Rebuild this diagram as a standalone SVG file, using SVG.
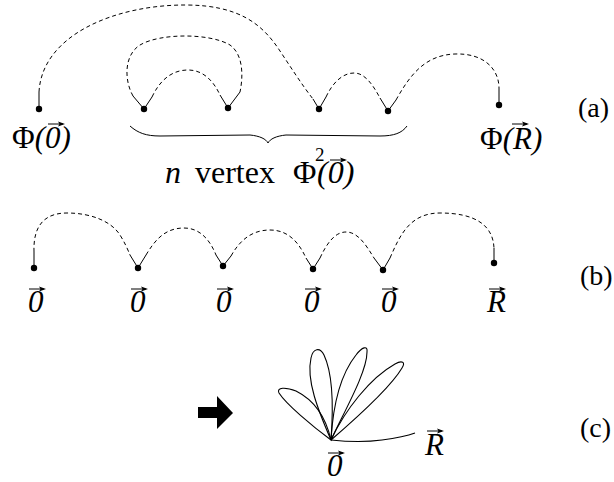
<svg xmlns="http://www.w3.org/2000/svg" xmlns:xlink="http://www.w3.org/1999/xlink" width="614" height="482" viewBox="0 0 614 482">
<style>
.t{font-family:"Liberation Serif","Times New Roman",serif;font-size:31px;fill:#000}
.big{font-size:32px}
.it{font-style:italic}
.lab{font-family:"Liberation Serif","Times New Roman",serif;font-size:28px;fill:#000}
.d{fill:none;stroke:#000;stroke-width:1;stroke-dasharray:4 3}
.s{fill:none;stroke:#000;stroke-width:1}
.dot{fill:#000}
.pet{fill:none;stroke:#000;stroke-width:1.1}
</style>
<defs>
<g id="vec"><line x1="0" y1="0" x2="15" y2="0" stroke="#000" stroke-width="1"/><path d="M17,0 L10,-2.5 L11.5,0 L10,2.5Z" fill="#000"/></g>
</defs>
<g id="connectors">
<!-- row a -->
<path class="s" d="M39,109 L39,92 M319,109 L313,99"/>
<path class="d" d="M39,92 C42,35 115,5 185,5 C240,5 262,25 278,48 C290,66 302,85 313,99"/>
<path class="s" d="M144,109 L133,96 M228,108 L240,92"/>
<path class="d" d="M133,96 C124,80 124,55 140,45 C160,33 210,33 230,45 C244,55 243,78 240,92"/>
<path class="s" d="M144,109 L152,97 M228,108 L220,95"/>
<path class="d" d="M152,97 C160,80 172,70 188,70 C204,70 214,82 220,95"/>
<path class="s" d="M319,109 L326,97 M388,111 L380,98"/>
<path class="d" d="M326,97 C333,82 343,73 354,73 C365,73 373,85 380,98"/>
<path class="s" d="M388,111 L396,100 M499,105 L499,88"/>
<path class="d" d="M396,100 C410,75 425,55 455,54 C485,53 499,70 499,88"/>
<path class="s" d="M130,126 C138,133 146,136 160,136 L250,135 C260,136 266,139 268,143 C270,139 276,136 286,135 L380,136 C394,136 402,133 407,126"/>
<!-- row b -->
<path class="s" d="M34,268 L34,252 M138,268 L130,255"/>
<path class="d" d="M34,252 C33,225 45,213 67,213 C92,213 112,222 120,235 C125,243 128,250 130,255"/>
<path class="s" d="M138,268 L146,255 M223,266 L216,255"/>
<path class="d" d="M146,255 C155,240 165,228 184,228 C200,228 210,240 216,255"/>
<path class="s" d="M223,266 L231,256 M313,269 L306,258"/>
<path class="d" d="M231,256 C240,240 252,230 270,230 C290,230 300,245 306,258"/>
<path class="s" d="M313,269 L320,258 M383,270 L374,258"/>
<path class="d" d="M320,258 C327,243 335,232 346,232 C358,232 366,245 374,258"/>
<path class="s" d="M383,270 L390,258 M494,263 L494,248"/>
<path class="d" d="M390,258 C400,235 410,213 440,213 C475,213 493,225 494,248"/>
<!-- row c -->
<path class="pet" d="M331,440 C326,418 314,400 296,391 C286,387 276,387 279,393 C286,404 312,426 331,440 Z"/>
<path class="pet" d="M331,440 C318,410 306,380 311,358 C313,348 320,347 324,355 C332,372 334,400 331,440 Z"/>
<path class="pet" d="M331,440 C333,405 340,375 356,355 C362,347 368,345 367,352 C367,372 345,410 331,440 Z"/>
<path class="pet" d="M331,440 C345,410 370,378 395,364 C402,360 406,362 402,368 C392,385 360,415 331,440 Z"/>
<path class="pet" d="M331,440 Q360,443 382,440 T415,433"/>
<polygon fill="#000" points="198,407 217,407 217,396 233,413 217,429 217,418 198,418"/>
</g>
<g id="dots">
<circle class="dot" cx="39" cy="109" r="3.2"/>
<circle class="dot" cx="144" cy="109" r="3.2"/>
<circle class="dot" cx="228" cy="108" r="3.2"/>
<circle class="dot" cx="319" cy="109" r="3.2"/>
<circle class="dot" cx="388" cy="111" r="3.2"/>
<circle class="dot" cx="499" cy="105" r="3.2"/>
<circle class="dot" cx="34" cy="268" r="3.2"/>
<circle class="dot" cx="138" cy="268" r="3.2"/>
<circle class="dot" cx="223" cy="266" r="3.2"/>
<circle class="dot" cx="313" cy="269" r="3.2"/>
<circle class="dot" cx="383" cy="270" r="3.2"/>
<circle class="dot" cx="494" cy="263" r="3.2"/>
</g>
<g id="labels-a">
<text class="t" x="12" y="148">Φ<tspan class="it">(0)</tspan></text>
<use xlink:href="#vec" x="48" y="124"/>
<text class="t" x="480" y="149">Φ<tspan class="it">(R)</tspan></text>
<use xlink:href="#vec" x="512" y="124"/>
<text class="lab" x="578" y="117">(a)</text>
<text class="t big it" x="165" y="183">n</text>
<text class="t big" x="195" y="183">vertex</text>
<text class="t big" x="293" y="183">Φ</text>
<text class="t big it" x="317" y="183">(0)</text>
<text class="t" x="315" y="161" style="font-size:19px">2</text>
<use xlink:href="#vec" x="330" y="160"/>
</g>
<g id="labels-b">
<text class="t it" x="28" y="312">0</text><use xlink:href="#vec" x="29" y="289"/>
<text class="t it" x="130" y="312">0</text><use xlink:href="#vec" x="131" y="289"/>
<text class="t it" x="216" y="312">0</text><use xlink:href="#vec" x="217" y="289"/>
<text class="t it" x="304" y="312">0</text><use xlink:href="#vec" x="305" y="289"/>
<text class="t it" x="381" y="312">0</text><use xlink:href="#vec" x="382" y="289"/>
<text class="t it" x="487" y="312">R</text><use xlink:href="#vec" x="489" y="289"/>
<text class="lab" x="580" y="285">(b)</text>
</g>
<g id="labels-c">
<text class="t it" x="327" y="476">0</text><use xlink:href="#vec" x="328" y="453"/>
<text class="t it" x="425" y="455">R</text><use xlink:href="#vec" x="427" y="431"/>
<text class="lab" x="580" y="437">(c)</text>
</g>
</svg>
